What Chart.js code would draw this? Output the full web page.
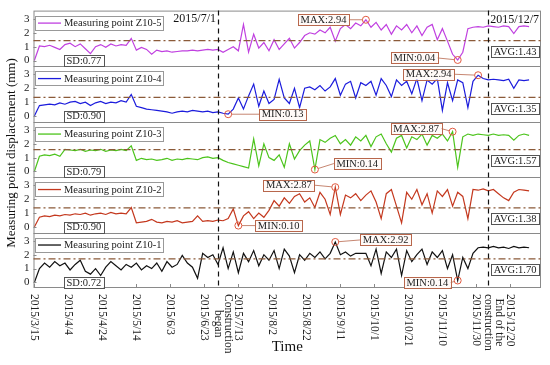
<!DOCTYPE html>
<html>
<head>
<meta charset="utf-8">
<script src="https://cdn.jsdelivr.net/npm/chart.js@4.4.1/dist/chart.umd.min.js"></script>
<style>
html,body{margin:0;padding:0;background:#fff;}
#wrap{width:550px;height:365px;}
</style>
</head>
<body>
<div id="wrap"><canvas id="chart"></canvas></div>
<script>
// day index counted from 2015/3/15, one reading every 3 days
const days = Array.from({length: 98}, (_, i) => i * 3);

const z10_5 = [
  0, 1.05, 1.0, 1.1, 0.95, 0.8, 1.15, 1.25, 1.0, 1.2,
  0.85, 0.5, 1.0, 1.15, 0.95, 1.2, 1.05, 1.15, 1.1, 1.6,
  0.75, 0.95, 0.8, 0.45, 0.75, 0.65, 0.7, 0.6, 0.65, 0.7,
  0.7, 0.75, 0.7, 0.75, 0.8, 0.75, 0.8, 0.6, 0.8, 1.0,
  0.7, 2.6, 0.6, 1.9, 0.9, 1.3, 0.7, 1.5, 0.8, 1.2,
  1.6, 0.9, 1.3, 1.8, 2.0, 1.9, 2.2, 2.0, 2.4, 1.4,
  2.3, 2.6, 2.3, 2.7, 2.5, 2.94, 2.4, 2.75, 2.2, 2.6,
  1.9, 2.5, 2.2, 2.6, 2.0, 2.5, 1.8, 2.4, 2.6, 1.5,
  2.3, 1.4, 0.45, 0.04, 0.6, 2.3, 2.4, 2.45, 2.4, 2.5,
  2.45, 2.4, 2.5, 2.45, 1.95, 2.45, 2.5, 2.45
];
const z10_4 = [
  0, 0.75, 0.8, 0.85, 0.8, 0.95, 0.85, 1.0, 1.05, 0.9,
  1.0, 0.75, 0.95, 1.05, 0.9, 1.0, 0.95, 1.1, 1.0, 1.55,
  0.7, 0.6, 0.5, 0.45, 0.4, 0.35, 0.3, 0.2, 0.3, 0.35,
  0.3, 0.4, 0.35, 0.3, 0.35, 0.25, 0.3, 0.2, 0.13, 0.5,
  1.3, 0.5, 1.45, 2.3, 0.7, 1.8, 0.9, 1.2, 2.65, 1.3,
  0.9, 2.0, 0.6, 2.0, 2.1, 1.9, 2.2, 1.8, 2.1, 2.7,
  1.5, 2.3, 2.5, 1.3, 2.4, 2.2, 2.5, 1.5, 2.7, 2.2,
  1.4, 2.6, 2.2, 2.5, 1.6, 2.7, 1.1, 2.6, 2.3, 2.7,
  0.4, 2.4, 1.1, 2.6, 2.4, 0.6, 2.5, 2.94, 2.7, 2.6,
  2.65, 2.6, 2.55, 2.65, 2.0, 2.6, 2.55, 2.6
];
const z10_3 = [
  0, 1.1, 1.2, 1.15, 1.25, 1.1, 1.6, 1.55, 1.5, 1.6,
  1.45, 1.55, 1.5, 1.6, 1.45, 1.55, 1.5, 1.6, 1.5, 1.85,
  0.8, 0.95, 0.85, 0.9, 0.8, 0.85, 0.95, 0.8, 0.9, 0.85,
  0.95, 0.9, 0.85, 1.0, 1.05, 0.95, 1.0, 0.8, 0.65, 0.55,
  0.45, 0.35, 0.25, 2.35, 0.4, 2.0, 1.0, 0.8, 1.2, 0.3,
  2.0, 0.9, 1.5, 1.9, 2.2, 0.14, 2.3, 2.1, 2.4, 2.6,
  2.0, 2.3, 1.9, 2.5, 2.2, 2.6, 1.8, 2.5, 2.7, 2.0,
  1.4, 2.4, 2.6, 1.7, 2.5, 2.3, 2.7, 1.9, 2.6, 2.4,
  2.7, 2.2, 2.87, 0.3, 2.5, 2.7, 2.6, 2.7, 2.65, 2.6,
  2.7, 2.6, 2.65, 2.6, 2.25, 2.6, 2.7, 2.6
];
const z10_2 = [
  0, 0.7, 0.8, 0.75, 0.85, 0.8, 0.9, 0.85, 0.95, 0.9,
  1.0, 0.85, 0.95, 1.0, 0.9, 1.05, 0.95, 1.0, 0.95, 1.4,
  0.3, 0.35, 0.4, 0.55, 0.35, 0.3, 0.4, 0.35, 0.45, 0.3,
  0.35, 0.4, 0.8, 0.4, 0.45, 0.4, 0.5, 0.45, 0.6, 1.3,
  0.10, 0.8, 1.1, 0.6, 1.0, 0.7, 1.2, 1.9, 1.5, 2.1,
  1.7, 2.2, 2.4, 1.8, 2.1, 1.4, 2.5, 2.0, 0.9, 2.87,
  0.9, 2.3, 2.1, 2.4, 1.9, 2.3, 2.6, 1.8, 0.6, 2.4,
  2.7, 1.5, 0.3, 2.5, 2.0, 2.7, 1.6, 2.4, 1.0, 2.6,
  2.2, 2.7, 1.5, 2.5, 2.2, 0.6, 2.7, 2.65, 2.75, 2.6,
  2.7, 2.4, 2.1, 1.9, 2.5, 2.7, 2.65, 2.6
];
const z10_1 = [
  0, 1.0, 1.4, 1.1, 1.5, 1.2, 1.4, 0.9, 1.3, 1.6,
  0.8, 0.6, 1.0, 0.5, 1.1, 1.5, 1.2, 0.9, 1.3, 1.1,
  1.4, 0.9, 1.2, 1.0, 1.4, 0.8, 1.5, 1.1, 1.3, 1.95,
  1.4, 1.1, 0.3, 2.1, 1.8, 2.0, 1.3, 2.5, 1.0, 2.2,
  0.7, 2.1, 1.5, 2.3, 1.2, 2.0, 1.6, 2.3, 1.0, 2.4,
  1.9, 0.7, 2.0, 1.6, 2.1, 1.8, 2.2, 1.7, 2.1, 2.92,
  2.0, 2.2, 1.9, 2.1, 2.1, 2.1, 1.2, 2.4, 0.65, 2.2,
  1.8, 2.4, 0.5, 2.3, 1.5, 2.0, 2.4, 1.3, 2.2, 1.8,
  2.3, 1.0, 2.0, 0.14, 1.8, 1.0, 2.1, 2.5, 2.55, 2.5,
  2.6, 2.5, 2.55, 2.45, 2.6, 2.5, 2.55, 2.5
];

// panels from top to bottom
const pointNames = ['Z10-5', 'Z10-4', 'Z10-3', 'Z10-2', 'Z10-1'];
const series = [z10_5, z10_4, z10_3, z10_2, z10_1];
const avgValues = [1.43, 1.35, 1.57, 1.38, 1.70];
const sdValues = [0.77, 0.90, 0.79, 0.90, 0.72];
const colors = ['#c040e0', '#1c1cdc', '#4cc41c', '#c4381e', '#111111'];
const yTickValues = [0, 1, 2, 3];

const xTickDays = [0, 20, 40, 60, 80, 100, 120, 140, 160, 180, 200, 220, 240, 260, 280];
const xTickLabels = ['2015/3/15', '2015/4/4', '2015/4/24', '2015/5/14', '2015/6/3', '2015/6/23',
  '2015/7/13', '2015/8/2', '2015/8/22', '2015/9/11', '2015/10/1', '2015/10/21',
  '2015/11/10', '2015/11/30', '2015/12/20'];
const eventDays = [108, 267];
const eventDates = ['2015/7/1', '2015/12/7'];
const eventLabels = [['Construction', 'began'], ['End of the', 'construction']];
const periodStart = 108; // MAX / MIN are taken from the construction period

// where the MAX / MIN boxes sit relative to their point: [side, dx, dy]
const maxBox = [['L', -17, 0], ['L', -24, -1], ['L', -11, -3], ['L', -21, -2], ['R', 25, -2]];
const minBox = [['L', -20, -2], ['R', 31, 0], ['R', 19, -6], ['R', 17, 0], ['L', -7, 2]];

const serif = '"Liberation Serif", "Times New Roman", serif';

function boxText(ctx, text, x, y, align, font, stroke, fill) {
  ctx.font = font;
  const w = ctx.measureText(text).width + 5;
  const h = 11;
  const left = align === 'right' ? x - w : x;
  ctx.fillStyle = fill;
  ctx.fillRect(left, y - h / 2, w, h);
  ctx.strokeStyle = stroke;
  ctx.lineWidth = 1;
  ctx.strokeRect(Math.round(left) + 0.5, Math.round(y - h / 2) + 0.5, Math.round(w), h);
  ctx.fillStyle = '#222';
  ctx.textAlign = 'left';
  ctx.textBaseline = 'middle';
  ctx.fillText(text, left + 2.5, y + 0.5);
  return {left, right: left + w};
}

const overlay = {
  id: 'overlay',
  afterDatasetsDraw(chart) {
    const ctx = chart.ctx, a = chart.chartArea, xs = chart.scales.x;
    ctx.save();

    // frame and panel separators
    ctx.strokeStyle = '#8a8a8a';
    ctx.lineWidth = 1;
    ctx.strokeRect(a.left + 0.5, a.top + 0.5, a.width - 1, a.height - 1);
    pointNames.forEach((n, i) => {
      const ys = chart.scales['p' + i];
      if (i > 0) {
        ctx.beginPath();
        ctx.moveTo(a.left, Math.round(ys.top) + 0.5);
        ctx.lineTo(a.right, Math.round(ys.top) + 0.5);
        ctx.stroke();
      }
      // small inward ticks
      ctx.beginPath();
      yTickValues.forEach(v => {
        const y = Math.round(ys.getPixelForValue(v)) + 0.5;
        ctx.moveTo(a.left, y); ctx.lineTo(a.left + 3, y);
      });
      ctx.stroke();
    });
    ctx.beginPath();
    xTickDays.forEach(d => {
      const x = Math.round(xs.getPixelForValue(d)) + 0.5;
      ctx.moveTo(x, a.bottom); ctx.lineTo(x, a.bottom - 4);
    });
    ctx.stroke();

    // average lines
    ctx.strokeStyle = '#8b5a38';
    ctx.lineWidth = 1.3;
    ctx.setLineDash([7, 3, 2, 3]);
    pointNames.forEach((n, i) => {
      const y = chart.scales['p' + i].getPixelForValue(avgValues[i]);
      ctx.beginPath();
      ctx.moveTo(a.left, y); ctx.lineTo(a.right, y);
      ctx.stroke();
    });

    // construction start / end
    ctx.strokeStyle = '#111';
    ctx.lineWidth = 1.2;
    ctx.setLineDash([5, 4]);
    eventDays.forEach(d => {
      const x = Math.round(xs.getPixelForValue(d)) + 0.5;
      ctx.beginPath();
      ctx.moveTo(x, a.top); ctx.lineTo(x, a.bottom);
      ctx.stroke();
    });
    ctx.setLineDash([]);

    // legend, SD and AVG boxes
    pointNames.forEach((n, i) => {
      const ys = chart.scales['p' + i];
      const top = ys.top;
      ctx.fillStyle = '#fff';
      ctx.fillRect(35, top + 5, 128, 14);
      ctx.strokeStyle = '#999';
      ctx.lineWidth = 1;
      ctx.strokeRect(35.5, Math.round(top + 5) + 0.5, 128, 14);
      ctx.strokeStyle = colors[i];
      ctx.lineWidth = 1.3;
      ctx.beginPath();
      ctx.moveTo(38, top + 12.5); ctx.lineTo(61, top + 12.5);
      ctx.stroke();
      ctx.fillStyle = '#222';
      ctx.font = '10.5px ' + serif;
      ctx.textAlign = 'left';
      ctx.textBaseline = 'middle';
      ctx.fillText('Measuring point ' + n, 64, top + 13);

      boxText(ctx, 'SD:' + sdValues[i].toFixed(2), 64, ys.bottom - 5.5, 'left', '10.5px ' + serif, '#555', '#fff');
      const ay = ys.getPixelForValue(avgValues[i]) + 11;
      boxText(ctx, 'AVG:' + avgValues[i].toFixed(2), xs.getPixelForValue(eventDays[1]) + 3, ay, 'left', '10.5px ' + serif, '#555', '#fff');

      // MAX / MIN markers
      const vals = series[i];
      let iMax = -1, iMin = -1;
      vals.forEach((v, k) => {
        if (days[k] < periodStart) return;
        if (iMax < 0 || v > vals[iMax]) iMax = k;
        if (iMin < 0 || v < vals[iMin]) iMin = k;
      });
      [[iMax, 'MAX:', maxBox[i]], [iMin, 'MIN:', minBox[i]]].forEach(([k, tag, pos]) => {
        const px = xs.getPixelForValue(days[k]);
        const py = ys.getPixelForValue(vals[k]);
        const bx = px + pos[1], by = py + pos[2];
        const b = boxText(ctx, tag + vals[k].toFixed(2), bx, by, pos[0] === 'L' ? 'right' : 'left', '10.5px ' + serif, '#b8674c', '#fffaf8');
        ctx.strokeStyle = '#b8674c';
        ctx.lineWidth = 0.8;
        ctx.beginPath();
        ctx.moveTo(pos[0] === 'L' ? b.right : b.left, by);
        const ang = Math.atan2(py - by, px - (pos[0] === 'L' ? b.right : b.left));
        ctx.lineTo(px - 3.5 * Math.cos(ang), py - 3.5 * Math.sin(ang));
        ctx.stroke();
        ctx.strokeStyle = '#e05a40';
        ctx.lineWidth = 1;
        ctx.beginPath();
        ctx.arc(px, py, 3.5, 0, Math.PI * 2);
        ctx.stroke();
      });
    });

    // dates of construction start / end
    ctx.fillStyle = '#111';
    ctx.font = '12px ' + serif;
    ctx.textBaseline = 'middle';
    ctx.textAlign = 'right';
    ctx.fillText(eventDates[0], xs.getPixelForValue(eventDays[0]) - 2, a.top + 8);
    ctx.textAlign = 'left';
    ctx.fillText(eventDates[1], xs.getPixelForValue(eventDays[1]) + 2, a.top + 9);

    // x tick labels, rotated clockwise
    ctx.font = '11.5px ' + serif;
    ctx.fillStyle = '#222';
    xTickDays.forEach((d, k) => {
      ctx.save();
      ctx.translate(xs.getPixelForValue(d), a.bottom + 6);
      ctx.rotate(Math.PI / 2);
      ctx.textAlign = 'left';
      ctx.textBaseline = 'middle';
      ctx.fillText(xTickLabels[k], 0, 0);
      ctx.restore();
    });
    eventDays.forEach((d, k) => {
      const lines = eventLabels[k];
      const x0 = xs.getPixelForValue(d);
      const longest = Math.max(...lines.map(t => ctx.measureText(t).width));
      lines.forEach((t, j) => {
        ctx.save();
        ctx.translate(x0 + 10.5 - j * 10.5, a.bottom + 6 + longest / 2);
        ctx.rotate(Math.PI / 2);
        ctx.textAlign = 'center';
        ctx.textBaseline = 'middle';
        ctx.fillText(t, 0, 0);
        ctx.restore();
      });
    });

    // axis titles
    ctx.fillStyle = '#111';
    ctx.font = '15px ' + serif;
    ctx.textAlign = 'center';
    ctx.textBaseline = 'middle';
    ctx.fillText('Time', (a.left + a.right) / 2, 347);
    ctx.save();
    ctx.translate(12, 153);
    ctx.rotate(-Math.PI / 2);
    ctx.font = '13px ' + serif;
    ctx.fillText('Measuring point displacement (mm)', 0, 0);
    ctx.restore();

    ctx.restore();
  }
};

const scales = {
  x: {type: 'linear', min: -0.5, max: 298, display: false}
};
// bottom panel first, stacked upwards
for (let i = pointNames.length - 1; i >= 0; i--) {
  scales['p' + i] = {
    type: 'linear',
    position: 'left',
    stack: 'panels',
    stackWeight: 1,
    min: -0.4,
    max: 3.6,
    afterBuildTicks: s => { s.ticks = yTickValues.map(v => ({value: v})); },
    grid: {display: false, drawTicks: false},
    border: {display: false},
    ticks: {padding: 4, autoSkip: false, color: '#222', font: {family: serif, size: 11}}
  };
}

new Chart('chart', {
  type: 'line',
  data: {
    datasets: series.map((vals, i) => ({
      label: pointNames[i],
      data: vals.map((v, k) => ({x: days[k], y: v})),
      yAxisID: 'p' + i,
      borderColor: colors[i],
      borderWidth: 1.2,
      pointRadius: 0,
      tension: 0
    }))
  },
  options: {
    animation: false,
    responsive: true,
    maintainAspectRatio: false,
    layout: {padding: {left: 20, right: 9, top: 9, bottom: 77}},
    plugins: {legend: {display: false}, tooltip: {enabled: false}},
    scales: scales
  },
  plugins: [overlay]
});
</script>
</body>
</html>
